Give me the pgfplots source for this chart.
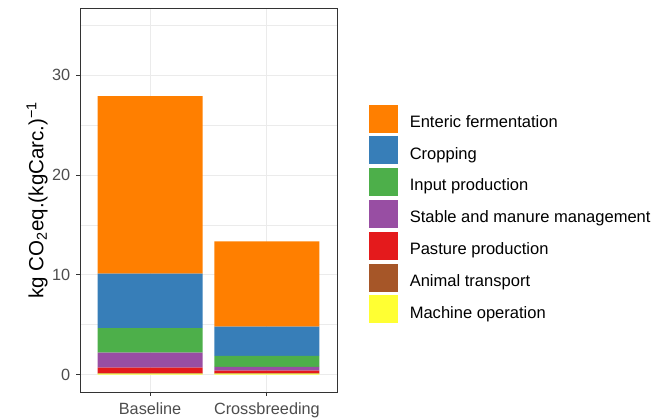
\documentclass[border=0pt]{standalone}
\usepackage{pgfplots}
\pgfplotsset{compat=1.18}
\usepackage{fontspec}
\setmainfont{Liberation Sans}
\definecolor{cEnt}{HTML}{FF7F00}
\definecolor{cCrop}{HTML}{377EB8}
\definecolor{cInp}{HTML}{4DAF4A}
\definecolor{cStab}{HTML}{984EA3}
\definecolor{cPast}{HTML}{E41A1C}
\definecolor{cTrans}{HTML}{A65628}
\definecolor{cMach}{HTML}{FFFF33}
\definecolor{gray92}{HTML}{EBEBEB}
\definecolor{gray20}{HTML}{333333}
\definecolor{gray30}{HTML}{4D4D4D}
\newcommand{\lt}[1]{\hspace{9pt}\raisebox{-2pt}[9pt][0pt]{#1}}
\begin{document}
\begin{tikzpicture}
\path[use as bounding box] (0,0) rectangle (489.75pt,315pt);
\begin{axis}[
  at={(60pt,21pt)}, anchor=south west,
  scale only axis, width=192.75pt, height=288pt,
  xmin=0.4, xmax=2.6, ymin=-1.75, ymax=36.75,
  ybar stacked, bar width=0.9,
  xtick={1,2}, xticklabels={Baseline,Crossbreeding},
  ytick={0,10,20,30}, minor ytick={5,15,25,35},
  /pgf/number format/assume math mode=true,
  grid=both,
  major grid style={color=gray92, line width=0.8pt},
  minor grid style={color=gray92, line width=0.4pt},
  axis line style={color=gray20, line width=0.7pt},
  tick style={color=gray20, line width=0.7pt},
  major tick length=2.75pt, minor tick length=0pt,
  tick align=outside, tick pos=left,
  ticklabel style={font=\fontsize{12.2}{14}\selectfont, text=gray30},
  xticklabel style={yshift=-2pt},
  yticklabel style={xshift=-1pt},
  ylabel={kg CO\textsubscript{2}eq.(kgCarc.)\textsuperscript{\symbol{"2212}1}},
  ylabel style={font=\fontsize{15.4}{18}\selectfont, at={(axis description cs:-0.167,0.5)}, anchor=center},
  reverse legend,
  legend image code/.code={\fill[#1] (0pt,-10.5pt) rectangle (21.75pt,10.5pt);},
  legend style={at={(1.1226,0.749)}, anchor=north west, draw=none, fill=none,
    inner sep=0pt, row sep=2.85pt, column sep=0pt,
    cells={anchor=west},
    nodes={inner sep=0pt, text depth=0pt},
    font=\fontsize{12.4}{14}\selectfont, text=black},
  legend cell align=left,
]
\addplot[fill=cMach, draw=none] coordinates {(1,0.10) (2,0.10)};
\addplot[fill=cTrans, draw=none] coordinates {(1,0.05) (2,0.05)};
\addplot[fill=cPast, draw=none] coordinates {(1,0.55) (2,0.25)};
\addplot[fill=cStab, draw=none] coordinates {(1,1.50) (2,0.36)};
\addplot[fill=cInp, draw=none] coordinates {(1,2.46) (2,1.10)};
\addplot[fill=cCrop, draw=none] coordinates {(1,5.46) (2,2.95)};
\addplot[fill=cEnt, draw=none] coordinates {(1,17.80) (2,8.55)};
\legend{\lt{Machine operation},\lt{Animal transport},\lt{Pasture production},\lt{Stable and manure management},\lt{Input production},\lt{Cropping},\lt{Enteric fermentation}}
\end{axis}
\end{tikzpicture}
\end{document}
